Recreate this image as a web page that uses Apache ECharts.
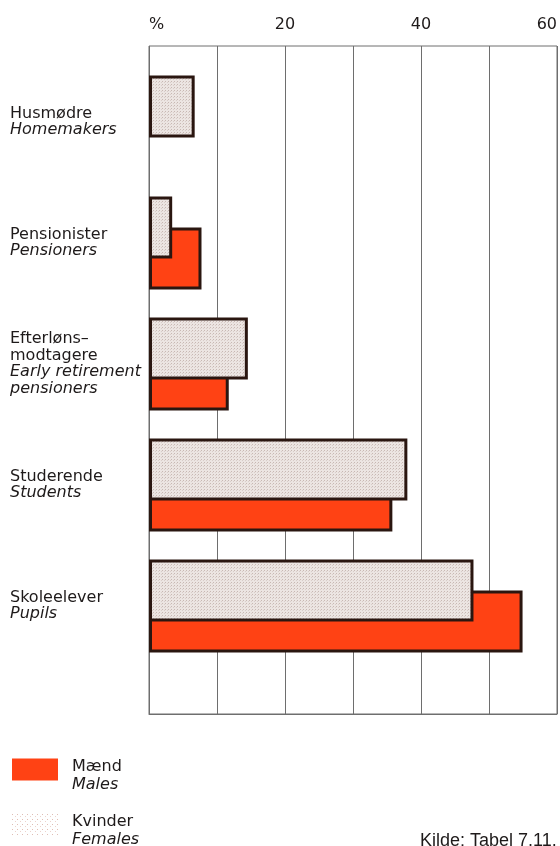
<!DOCTYPE html>
<html>
<head>
<meta charset="utf-8">
<script src="https://cdn.jsdelivr.net/npm/echarts@6/dist/echarts.min.js"></script>
<style>
html,body{margin:0;padding:0;background:#fff;}
#c{width:560px;height:846px;}
</style>
</head>
<body>
<div id="c"></div>
<script>
// ---- data ----
const categoriesDa = ['Husmødre', 'Pensionister', 'Efterløns–\nmodtagere', 'Studerende', 'Skoleelever'];
const categoriesEn = ['Homemakers', 'Pensioners', 'Early retirement\npensioners', 'Students', 'Pupils'];
const females = [6.7, 3.4, 14.5, 37.9, 47.6];
const males = [null, 7.7, 11.7, 35.7, 54.8];
const xTicks = [0, 10, 20, 30, 40, 50, 60];
const xTickLabels = {0: '%', 20: '20', 40: '40', 60: '60'};
const legendDa = ['Mænd', 'Kvinder'];
const legendEn = ['Males', 'Females'];
const sourceText = 'Kilde: Tabel 7.11.';

// ---- patterns ----
function makePattern(size, bg, dots) {
  const c = document.createElement('canvas');
  c.width = size; c.height = size;
  const ctx = c.getContext('2d');
  if (bg) { ctx.fillStyle = bg; ctx.fillRect(0, 0, size, size); }
  dots.forEach(d => { ctx.fillStyle = d[2]; ctx.fillRect(d[0], d[1], 1, 1); });
  return {image: c, repeat: 'repeat'};
}
const femaleFill = makePattern(3, '#ece5e2', [[0, 0, '#c8b8b3'], [2, 1, '#d9cdc9']]);
const femaleLegendFill = makePattern(5, '#ffffff', [[0, 0, '#e0bdb4'], [3, 2, '#ecd3cc']]);

const FONT = 'DejaVu Sans';
const TXT = '#1e1a1a';
const LINE = '#6e6e6e';
const RED = '#ff4214';
const EDGE = '#2a1610';

function catLabel(val, idx) {
  const da = categoriesDa[idx].split('\n').map(s => '{a|' + s + '}');
  const en = categoriesEn[idx].split('\n').map(s => '{b|' + s + '}');
  return da.concat(en).join('\n');
}

const chart = echarts.init(document.getElementById('c'), null, {renderer: 'canvas'});
chart.setOption({
  animation: false,
  textStyle: {fontFamily: FONT, color: TXT},
  title: {
    text: sourceText, left: 420, top: 832, padding: 0,
    textStyle: {fontFamily: 'Liberation Sans', fontSize: 18, fontWeight: 'normal', color: TXT}
  },
  legend: {
    orient: 'vertical', left: 12, top: 751, width: 200, height: 150, padding: 0, itemGap: 14,
    itemWidth: 46, itemHeight: 22, icon: 'rect',
    data: [
      {name: legendDa[0]},
      {name: legendDa[1], itemStyle: {color: femaleLegendFill}}
    ],
    itemStyle: {borderWidth: 0},
    formatter: name => {
      const i = legendDa.indexOf(name);
      return '{s| }\n{a|' + name + '}\n{b|' + legendEn[i] + '}';
    },
    textStyle: {
      fontFamily: FONT, color: TXT, padding: [0, 0, 0, 9],
      rich: {
        s: {fontSize: 1, lineHeight: 12},
        a: {fontFamily: FONT, fontSize: 16, lineHeight: 18, color: TXT},
        b: {fontFamily: FONT, fontSize: 16, lineHeight: 18, fontStyle: 'italic', color: TXT}
      }
    }
  },
  grid: [
    {left: 149, right: 2, top: 46, bottom: 132, show: true, borderColor: LINE, borderWidth: 1, backgroundColor: 'transparent'},
    {left: 149, right: 2, top: 61.5, bottom: 179.5}
  ],
  xAxis: [
    {
      gridIndex: 0, type: 'value', position: 'top', min: 0, max: 60, interval: 10,
      axisLine: {show: true, lineStyle: {color: LINE, width: 1}},
      axisTick: {show: false},
      splitLine: {show: true, lineStyle: {color: LINE, width: 1}},
      axisLabel: {
        margin: 13, fontFamily: FONT, fontSize: 16, color: TXT,
        alignMinLabel: 'left', alignMaxLabel: 'right',
        formatter: v => (xTickLabels[v] !== undefined ? xTickLabels[v] : '')
      }
    },
    {
      gridIndex: 1, type: 'value', min: 0, max: 60, interval: 10, show: false
    }
  ],
  yAxis: [
    {gridIndex: 0, type: 'value', show: false, splitLine: {show: false}},
    {
      gridIndex: 1, type: 'category', inverse: true, data: categoriesDa,
      axisLine: {show: false}, axisTick: {show: false}, splitLine: {show: false},
      axisLabel: {
        align: 'left', margin: 139, formatter: catLabel,
        rich: {
          a: {fontFamily: FONT, fontSize: 16, lineHeight: 16.5, color: TXT},
          b: {fontFamily: FONT, fontSize: 16, lineHeight: 16.5, fontStyle: 'italic', color: TXT}
        }
      }
    }
  ],
  series: [
    {
      name: legendDa[1], type: 'bar', xAxisIndex: 1, yAxisIndex: 1,
      data: females, barWidth: 62, barGap: '-50%', z: 3,
      itemStyle: {color: femaleFill, borderColor: EDGE, borderWidth: 3}
    },
    {
      name: legendDa[0], type: 'bar', xAxisIndex: 1, yAxisIndex: 1,
      data: males, barWidth: 62, barGap: '-50%', z: 2,
      itemStyle: {color: RED, borderColor: EDGE, borderWidth: 3}
    }
  ]
});
</script>
</body>
</html>
